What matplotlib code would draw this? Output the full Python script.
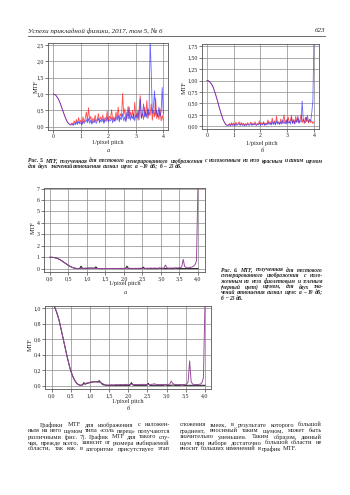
import numpy as np
import matplotlib
matplotlib.use("Agg")
import matplotlib.pyplot as plt
from matplotlib.ticker import FixedLocator, FixedFormatter
from matplotlib.font_manager import FontProperties
from matplotlib.backends.backend_agg import RendererAgg

plt.rcParams['font.family'] = ['Liberation Serif', 'DejaVu Serif']

# ---------------- data ----------------
# Fig. 5a : red and blue noise, MTF vs 1/pixel pitch (0..4)
mtf5a_red = [1.00, 0.99, 0.97, 0.93, 0.88, 0.82, 0.74, 0.65, 0.56, 0.46, 0.37, 0.28, 0.20, 0.14, 0.10, 0.08,
             0.07, 0.12, 0.06, 0.18, 0.09, 0.22, 0.10, 0.28, 0.12, 0.20, 0.08, 0.30, 0.14, 0.25, 0.45, 0.18,
             0.58, 0.20, 0.32, 0.12, 0.26, 0.15, 0.35, 0.18, 0.22, 0.40, 0.16, 0.30, 0.20, 0.36, 0.14, 0.28,
             0.22, 0.48, 0.18, 0.32, 0.25, 0.52, 0.20, 0.30, 0.18, 0.45, 0.26, 0.60, 0.22, 0.40, 0.30, 1.02,
             0.35, 0.55, 0.20, 0.38, 0.62, 0.25, 0.45, 0.30, 0.50, 0.22, 0.75, 0.30, 0.42, 0.20, 0.55, 0.95,
             0.28, 0.40, 0.22, 0.60, 0.30, 0.80, 0.25, 0.45, 0.35, 0.70, 0.20, 0.50, 0.30, 0.88, 0.25, 0.40,
             0.22, 0.55, 0.18, 0.35, 0.20]
mtf5a_blue = [1.00, 0.99, 0.97, 0.93, 0.88, 0.82, 0.74, 0.65, 0.55, 0.45, 0.36, 0.27, 0.19, 0.13, 0.09, 0.06,
              0.05, 0.08, 0.04, 0.10, 0.06, 0.14, 0.07, 0.16, 0.09, 0.12, 0.06, 0.18, 0.10, 0.15, 0.22, 0.12,
              0.25, 0.10, 0.20, 0.08, 0.16, 0.12, 0.22, 0.10, 0.18, 0.26, 0.12, 0.20, 0.15, 0.24, 0.10, 0.22,
              0.16, 0.30, 0.14, 0.22, 0.18, 0.28, 0.12, 0.24, 0.16, 0.30, 0.20, 0.35, 0.15, 0.28, 0.22, 0.40,
              0.18, 0.30, 0.15, 0.45, 0.24, 0.60, 0.20, 0.32, 0.25, 0.40, 0.18, 0.35, 0.28, 0.50, 0.22, 0.85,
              0.25, 0.38, 0.70, 0.30, 0.45, 0.28, 0.55, 0.35, 2.70, 1.70, 0.40, 0.60, 1.10, 0.35, 0.50, 0.30,
              0.60, 0.32, 0.45, 1.20, 0.40]

# Fig. 5b
mtf5b_red = [1.00, 1.00, 0.98, 0.96, 0.93, 0.89, 0.84, 0.77, 0.70, 0.62, 0.54, 0.45, 0.37, 0.29, 0.22, 0.15,
             0.10, 0.06, 0.03, 0.02, 0.03, 0.06, 0.02, 0.08, 0.03, 0.07, 0.02, 0.09, 0.04, 0.06, 0.10, 0.03,
             0.08, 0.04, 0.07, 0.02, 0.06, 0.03, 0.08, 0.04, 0.05, 0.09, 0.03, 0.07, 0.04, 0.10, 0.03, 0.06,
             0.05, 0.12, 0.04, 0.08, 0.05, 0.10, 0.03, 0.07, 0.05, 0.14, 0.06, 0.10, 0.04, 0.18, 0.06, 0.12,
             0.05, 0.22, 0.07, 0.10, 0.05, 0.16, 0.06, 0.12, 0.25, 0.07, 0.14, 0.06, 0.20, 0.08, 0.12, 0.24,
             0.07, 0.15, 0.06, 0.22, 0.10, 0.18, 0.07, 0.14, 0.25, 0.08, 0.16, 0.06, 0.20, 0.10, 0.24, 0.07,
             0.15, 0.08, 0.12, 0.06, 0.10]
mtf5b_blue = [1.00, 1.00, 0.98, 0.96, 0.93, 0.89, 0.84, 0.77, 0.70, 0.62, 0.54, 0.45, 0.37, 0.29, 0.22, 0.15,
              0.10, 0.06, 0.03, 0.02, 0.02, 0.04, 0.01, 0.05, 0.02, 0.04, 0.01, 0.05, 0.02, 0.04, 0.06, 0.02,
              0.05, 0.02, 0.04, 0.01, 0.04, 0.02, 0.05, 0.02, 0.03, 0.06, 0.02, 0.05, 0.03, 0.06, 0.02, 0.04,
              0.03, 0.07, 0.02, 0.05, 0.03, 0.08, 0.02, 0.05, 0.03, 0.09, 0.04, 0.07, 0.03, 0.10, 0.04, 0.08,
              0.03, 0.12, 0.05, 0.08, 0.04, 0.10, 0.05, 0.14, 0.06, 0.09, 0.05, 0.16, 0.07, 0.10, 0.05, 0.18,
              0.06, 0.12, 0.05, 0.14, 0.08, 0.22, 0.07, 0.12, 0.10, 0.55, 0.15, 0.10, 0.08, 0.20, 0.12, 0.10,
              0.15, 0.12, 0.30, 0.55, 1.85]

# Fig. 6a : violet noise and black noise
mtf6a_violet = [1.00, 1.00, 0.99, 0.97, 0.94, 0.90, 0.84, 0.77, 0.69, 0.60, 0.51, 0.42, 0.33, 0.25, 0.18, 0.12,
                0.07, 0.04, 0.02, 0.01, 0.01, 0.02, 0.03, 0.04, 0.04, 0.05, 0.05, 0.05, 0.04, 0.04, 0.03, 0.02,
                0.02, 0.02, 0.01, 0.02, 0.02, 0.02, 0.03, 0.02, 0.02, 0.03, 0.02, 0.03, 0.02, 0.03, 0.02, 0.03,
                0.03, 0.03, 0.02, 0.04, 0.03, 0.05, 0.03, 0.04, 0.03, 0.03, 0.04, 0.03, 0.04, 0.05, 0.03, 0.04,
                0.04, 0.03, 0.05, 0.04, 0.06, 0.04, 0.05, 0.06, 0.04, 0.05, 0.04, 0.06, 0.05, 0.06, 0.32, 0.08,
                0.05, 0.06, 0.05, 0.07, 0.05, 0.08, 0.06, 0.08, 0.10, 0.15, 0.82, 0.20, 0.10, 0.08, 0.10, 0.12,
                0.15, 0.22, 0.35, 0.70, 7.30]
mtf6a_black = [1.00, 1.00, 0.99, 0.97, 0.94, 0.90, 0.84, 0.77, 0.69, 0.60, 0.51, 0.42, 0.33, 0.25, 0.18, 0.12,
               0.07, 0.04, 0.02, 0.01, 0.02, 0.22, 0.03, 0.02, 0.03, 0.04, 0.05, 0.05, 0.06, 0.05, 0.04, 0.16,
               0.03, 0.02, 0.01, 0.01, 0.01, 0.01, 0.02, 0.01, 0.01, 0.02, 0.01, 0.01, 0.01, 0.02, 0.01, 0.01,
               0.01, 0.01, 0.01, 0.01, 0.22, 0.02, 0.01, 0.01, 0.01, 0.01, 0.01, 0.01, 0.01, 0.01, 0.01, 0.14,
               0.02, 0.01, 0.01, 0.01, 0.01, 0.01, 0.01, 0.01, 0.01, 0.01, 0.06, 0.01, 0.01, 0.01, 0.01, 0.01,
               0.01, 0.01, 0.01, 0.01, 0.01, 0.06, 0.01, 0.01, 0.01, 0.01, 0.01, 0.01, 0.01, 0.01, 0.01, 0.01,
               0.01, 0.01, 0.01, 0.01, 0.01]

# Fig. 6b
mtf6b_violet = [1.10, 1.07, 1.01, 0.96, 0.90, 0.83, 0.74, 0.65, 0.56, 0.47, 0.38, 0.30, 0.22, 0.16, 0.11, 0.07,
                0.04, 0.02, 0.01, 0.005, 0.01, 0.02, 0.03, 0.035, 0.04, 0.045, 0.05, 0.05, 0.052, 0.05, 0.048, 0.045,
                0.04, 0.03, 0.02, 0.012, 0.01, 0.008, 0.01, 0.012, 0.01, 0.012, 0.015, 0.012, 0.014, 0.016, 0.014, 0.015,
                0.016, 0.018, 0.015, 0.016, 0.02, 0.018, 0.016, 0.015, 0.016, 0.015, 0.016, 0.018, 0.016, 0.017, 0.016, 0.015,
                0.016, 0.018, 0.02, 0.025, 0.018, 0.016, 0.015, 0.016, 0.017, 0.015, 0.016, 0.018, 0.016, 0.02, 0.06, 0.03,
                0.018, 0.016, 0.015, 0.017, 0.016, 0.015, 0.016, 0.017, 0.02, 0.05, 0.32, 0.05, 0.02, 0.016, 0.015, 0.016,
                0.018, 0.02, 0.04, 0.10, 1.05]
mtf6b_black = [1.10, 1.07, 1.01, 0.96, 0.90, 0.83, 0.74, 0.65, 0.56, 0.47, 0.38, 0.30, 0.22, 0.16, 0.11, 0.07,
               0.04, 0.02, 0.01, 0.005, 0.01, 0.04, 0.02, 0.03, 0.035, 0.04, 0.045, 0.05, 0.05, 0.05, 0.05, 0.065,
               0.04, 0.02, 0.01, 0.008, 0.006, 0.005, 0.005, 0.006, 0.005, 0.006, 0.005, 0.005, 0.006, 0.005, 0.006, 0.006,
               0.005, 0.006, 0.006, 0.005, 0.04, 0.008, 0.006, 0.005, 0.006, 0.005, 0.006, 0.005, 0.006, 0.005, 0.006, 0.03,
               0.006, 0.005, 0.006, 0.005, 0.006, 0.005, 0.006, 0.005, 0.006, 0.005, 0.012, 0.005, 0.006, 0.005, 0.006, 0.01,
               0.006, 0.005, 0.006, 0.005, 0.006, 0.01, 0.006, 0.005, 0.006, 0.005, 0.006, 0.005, 0.006, 0.005, 0.006, 0.005,
               0.006, 0.005, 0.006, 0.005, 0.006]

yt5a = [0.0, 0.5, 1.0, 1.5, 2.0, 2.5]
yt5a_lab = ["0,0", "0,5", "1,0", "1,5", "2,0", "2,5"]
yt5b = [0.0, 0.25, 0.5, 0.75, 1.0, 1.25, 1.5, 1.75]
yt5b_lab = ["0,00", "0,25", "0,50", "0,75", "1,00", "1,25", "1,50", "1,75"]
xt5 = [0, 1, 2, 3, 4]
xt5_lab = ["0", "1", "2", "3", "4"]
yt6a = [0, 1, 2, 3, 4, 5, 6, 7]
yt6a_lab = ["0", "1", "2", "3", "4", "5", "6", "7"]
yt6b = [0.0, 0.2, 0.4, 0.6, 0.8, 1.0]
yt6b_lab = ["0,0", "0,2", "0,4", "0,6", "0,8", "1,0"]
xt6 = [0.0, 0.5, 1.0, 1.5, 2.0, 2.5, 3.0, 3.5, 4.0]
xt6_lab = ["0,0", "0,5", "1,0", "1,5", "2,0", "2,5", "3,0", "3,5", "4,0"]

header_text = "Успехи прикладной физики, 2017, том 5, № 6"
page_number = "623"
caption5 = ["Рис. 5. MTF, полученная для тестового сгенерированного изображения с наложенным на него красным и синим шумом",
            "для двух значений отношения сигнал шум: а – 19 дБ; б – 25 дБ."]
caption6 = ["Рис. 6. MTF, полученная для тестового",
            "сгенерированного изображения с нало-",
            "женным на него фиолетовым и зеленым",
            "(черный цвет) шумом, для двух зна-",
            "чений отношения сигнал шум: а – 19 дБ;",
            "б – 25 дБ."]
left_col = ["Графики MTF для изображения с наложен-",
            "ным на него шумом типа «соль перец» получаются",
            "различными (рис. 7). График MTF для такого слу-",
            "чая, прежде всего, зависит от размера выбираемой",
            "области, так как в алгоритме присутствует этап"]
right_col = ["сложения змеек, в результате которого большой",
             "градиент, вносимый таким шумом, может быть",
             "значительно уменьшен. Таким образом, данный",
             "шум при выборе достаточно большой области не",
             "вносит больших изменений в график MTF."]

# ---------------- figure ----------------
W, H = 350, 495
DPI = 100
fig = plt.figure(figsize=(W / DPI, H / DPI), dpi=DPI)
fig.patch.set_facecolor('white')
MEAS = RendererAgg(W, H, DPI)


def P(x, y):
    return x / W, 1 - y / H


def make_ax(l, r, t, b, xlim, ylim, xt, xl, yt, yl):
    ax = fig.add_axes([l / W, 1 - b / H, (r - l) / W, (b - t) / H])
    ax.set_xlim(*xlim)
    ax.set_ylim(*ylim)
    ax.xaxis.set_major_locator(FixedLocator(xt))
    ax.xaxis.set_major_formatter(FixedFormatter(xl))
    ax.yaxis.set_major_locator(FixedLocator(yt))
    ax.yaxis.set_major_formatter(FixedFormatter(yl))
    ax.grid(True, color='#8a8a8a', lw=0.5)
    ax.set_axisbelow(True)
    for s in ax.spines.values():
        s.set_color('#555555')
        s.set_linewidth(0.6)
    ax.tick_params(direction='out', length=2, width=0.5, color='#444444',
                   labelsize=4.2, pad=1.0, labelcolor='#222222')
    return ax


def xs(v):
    return np.linspace(0, 4, len(v))


def word_width(word, props):
    fp = FontProperties(family='Liberation Serif', size=props['fontsize'],
                        style=props.get('style', 'normal'), weight=props.get('weight', 'normal'))
    w, h, d = MEAS.get_text_width_height_descent(word, fp, ismath=False)
    return w


def justify_line(s, x0, x1, y, props, justify=True):
    words = s.split(' ')
    widths = [word_width(w, props) for w in words]
    space = word_width("a b", props) - word_width("ab", props)
    if justify and len(words) > 1:
        gap = ((x1 - x0) - sum(widths)) / (len(words) - 1)
        gap = max(gap, space * 0.6)
    else:
        gap = space
    x = x0
    for w, wd in zip(words, widths):
        fig.text(*P(x, y), w, ha='left', va='center', **props)
        x += wd + gap


RED = (1.0, 0.12, 0.12)
BLUE = (0.15, 0.15, 1.0)
VIOLET = '#9a4a9e'

# Fig 5a
ax1 = make_ax(48, 168, 42.7, 130, (-0.193, 4.17), (-0.10, 2.57), xt5, xt5_lab, yt5a, yt5a_lab)
ax1.plot(xs(mtf5a_red), mtf5a_red, color=RED, lw=0.6, alpha=0.8)
ax1.plot(xs(mtf5a_blue), mtf5a_blue, color=BLUE, lw=0.6, alpha=0.7)

# Fig 5b
ax2 = make_ax(202, 319, 44, 129, (-0.187, 4.19), (-0.059, 1.80), xt5, xt5_lab, yt5b, yt5b_lab)
ax2.plot(xs(mtf5b_red), mtf5b_red, color=RED, lw=0.6, alpha=0.8)
ax2.plot(xs(mtf5b_blue), mtf5b_blue, color=BLUE, lw=0.6, alpha=0.7)

# Fig 6a
ax3 = make_ax(44, 205, 188, 271.7, (-0.162, 4.19), (-0.26, 7.05), xt6, xt6_lab, yt6a, yt6a_lab)
ax3.plot(xs(mtf6a_black), mtf6a_black, color='#111111', lw=0.7)
ax3.plot(xs(mtf6a_violet), mtf6a_violet, color=VIOLET, lw=0.7)

# Fig 6b
ax4 = make_ax(45, 210.7, 305.7, 389.3, (-0.175, 4.15), (-0.046, 1.032), xt6, xt6_lab, yt6b, yt6b_lab)
ax4.plot(xs(mtf6b_black), mtf6b_black, color='#111111', lw=0.7)
ax4.plot(xs(mtf6b_violet), mtf6b_violet, color=VIOLET, lw=0.7)

# axis labels
lab = dict(fontsize=4.5, color='#222222', ha='center', va='center')
for (x, y) in [(108, 142), (262, 143), (125, 284), (128, 401)]:
    fig.text(*P(x, y), "1/pixel pitch", **lab)
for (x, y) in [(36, 87), (184, 88), (33, 228), (30, 345)]:
    fig.text(*P(x, y), "MTF", rotation=90, **lab)
it = dict(fontsize=4.5, style='italic', color='#222222', ha='center', va='center')
fig.text(*P(108, 150), "а", **it)
fig.text(*P(262, 151), "б", **it)
fig.text(*P(125, 292), "а", **it)
fig.text(*P(128, 409), "б", **it)

# header
fig.text(*P(28, 31), header_text, fontsize=5.0, style='italic',
         color='#222222', ha='left', va='center')
fig.text(*P(325, 31), page_number, fontsize=5.0, style='italic', color='#222222', ha='right', va='center')
fig.add_artist(plt.Line2D([28 / W, 325 / W], [1 - 36 / H, 1 - 36 / H], color='#555555', lw=0.6))

# captions
cap = dict(fontsize=4.0, style='italic', weight='bold', color='#222222')
justify_line(caption5[0], 28, 323, 161, cap, True)
justify_line(caption5[1], 28, 323, 166.5, cap, False)
for i, s in enumerate(caption6):
    justify_line(s, 221, 323, 270 + 5.6 * i, cap, i < len(caption6) - 1)

# body text
body = dict(fontsize=4.6, color='#222222')
for i, s in enumerate(left_col):
    justify_line(s, 40 if i == 0 else 28, 170, 425 + 6 * i, body, True)
for i, s in enumerate(right_col):
    justify_line(s, 180, 322, 425 + 6 * i, body, i < len(right_col) - 1)

fig.savefig("out.png", dpi=DPI, facecolor='white')
